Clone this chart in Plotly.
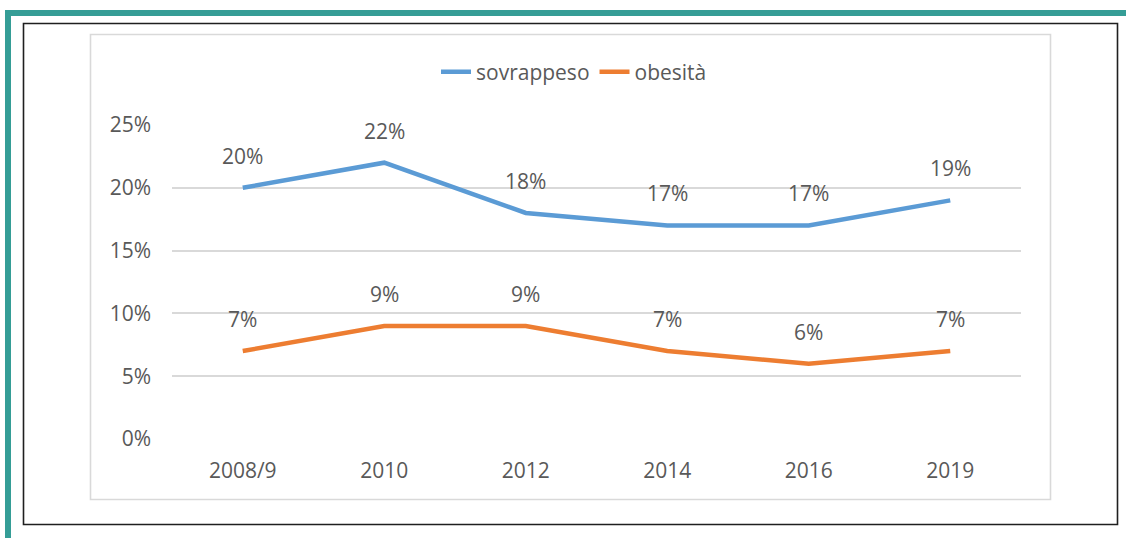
import plotly.graph_objects as go

W, H = 1126, 538

years = ["2008/9", "2010", "2012", "2014", "2016", "2019"]
sovrappeso = [0.20, 0.22, 0.18, 0.17, 0.17, 0.19]
obesita = [0.07, 0.09, 0.09, 0.07, 0.06, 0.07]
y_ticks = [0, 0.05, 0.10, 0.15, 0.20, 0.25]

BLUE = "#5B9BD5"
ORANGE = "#ED7D31"
TEXT = "#595959"
GRID = "#D9D9D9"
TEAL = "#359D96"
FONT = "Open Sans"


def px(x):
    return x / W


def py(y):
    return 1 - y / H


fig = go.Figure()
for name, vals, color in [("sovrappeso", sovrappeso, BLUE), ("obesità", obesita, ORANGE)]:
    fig.add_trace(go.Scatter(
        x=years, y=vals, mode="lines", name=name,
        line=dict(color=color, width=4.5),
        cliponaxis=False,
    ))
    # data labels above each point (x as category index, "2010" would be read as index 2010)
    for i, yv in enumerate(vals):
        fig.add_annotation(
            x=i, y=yv, text=f"{round(yv * 100)}%", showarrow=False,
            yshift=32, font=dict(family=FONT, size=21, color=TEXT),
        )

shapes = [
    # teal frame (top and left)
    dict(type="line", xref="paper", yref="paper", x0=px(5), x1=px(1130), y0=py(13), y1=py(13),
         line=dict(color=TEAL, width=6)),
    dict(type="line", xref="paper", yref="paper", x0=px(8), x1=px(8), y0=py(10), y1=py(545),
         line=dict(color=TEAL, width=6)),
    # black box
    dict(type="rect", xref="paper", yref="paper", x0=px(23.5), x1=px(1117.5), y0=py(23.5), y1=py(524.5),
         line=dict(color="#1F1F1F", width=1.6)),
    # chart area border
    dict(type="rect", xref="paper", yref="paper", x0=px(90.5), x1=px(1050.5), y0=py(34.5), y1=py(499.5),
         line=dict(color=GRID, width=1.6)),
]

fig.update_layout(
    width=W, height=H,
    margin=dict(l=0, r=0, t=0, b=0, pad=0),
    paper_bgcolor="white", plot_bgcolor="white",
    font=dict(family=FONT, size=21, color=TEXT),
    shapes=shapes,
    xaxis=dict(
        type="category", range=[-0.5, len(years) - 0.5],
        domain=[px(172), px(1021)],
        showgrid=False, zeroline=False, showline=False, automargin=False,
        ticks="", ticklabelstandoff=17,
        tickfont=dict(family=FONT, size=21, color=TEXT),
    ),
    yaxis=dict(
        domain=[py(439), py(125)],
        range=[0, 0.25], tickvals=y_ticks, tickformat=".0%",
        showgrid=True, gridcolor=GRID, gridwidth=1.5,
        zeroline=False, showline=False, automargin=False,
        ticks="", ticklabelstandoff=20,
        tickfont=dict(family=FONT, size=21, color=TEXT),
    ),
    legend=dict(
        orientation="h", x=px(574), xanchor="center", y=py(72), yanchor="middle",
        font=dict(family=FONT, size=21, color=TEXT),
        bgcolor="rgba(0,0,0,0)", itemwidth=30,
    ),
    showlegend=True,
)

# drop the default 8px page margin so the figure sits at the window's corner
fig.write_html(
    "out.html",
    config={"displayModeBar": False},
    post_script="document.body.style.margin = '0';",
)
